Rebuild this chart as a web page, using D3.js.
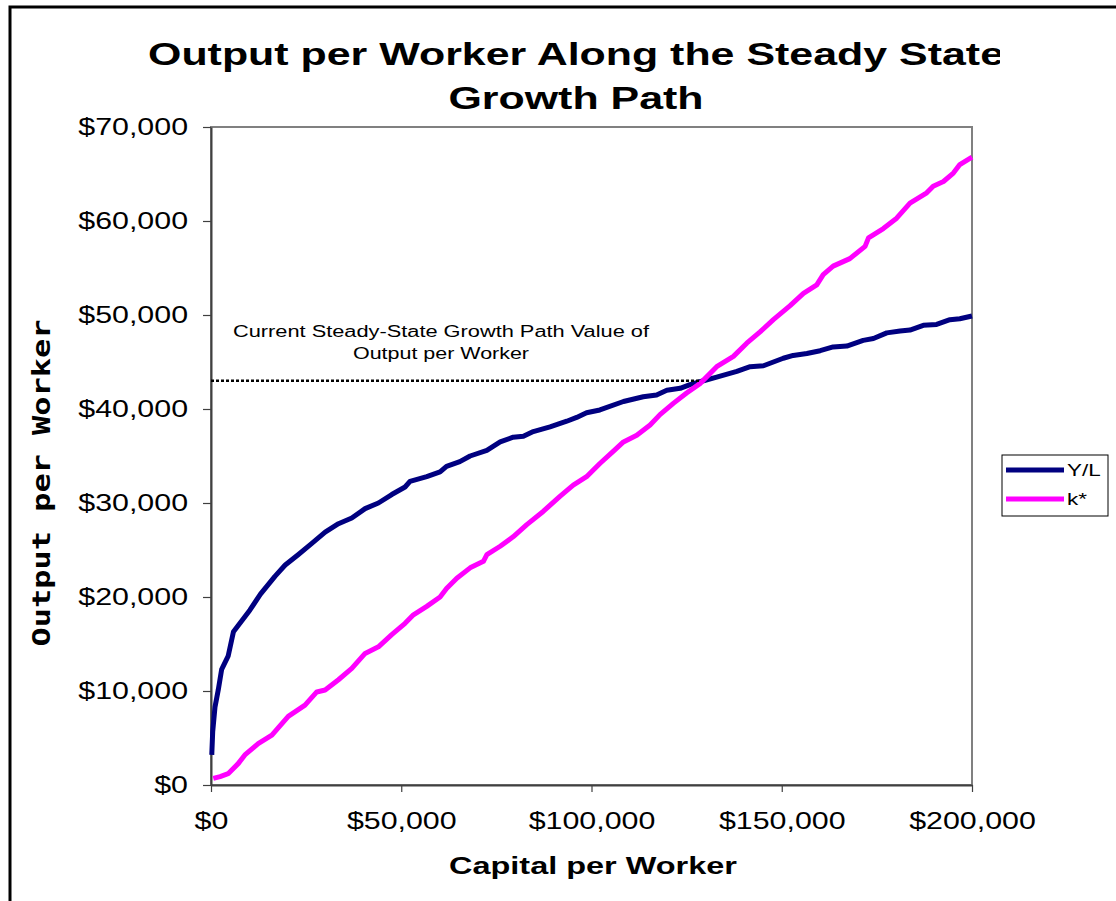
<!DOCTYPE html>
<html><head><meta charset="utf-8">
<script src="https://cdn.jsdelivr.net/npm/d3@7"></script>
<style>html,body{margin:0;padding:0;background:#fff}svg{display:block}</style>
</head><body>
<svg id="chart" width="1116" height="901"></svg>
<script>
// Output per worker (Y/L) against capital per worker
const capitalYL = [200, 450, 1050, 1900, 2800, 4500, 5900, 7600, 10200, 13000, 16800, 19500, 22900, 26500, 30000,
  33500, 37000, 40500, 44000, 47500, 51000, 52300, 56700, 60200, 61900, 65400, 68100, 72500, 76000, 79400,
  82100, 84700, 89100, 93500, 96100, 98700, 102200, 108400, 113600, 117100, 119800, 123300, 125900, 128500,
  132900, 138200, 141700, 145200, 150400, 153000, 156600, 160100, 163500, 167100, 171400, 174100, 177600,
  181100, 183700, 187200, 190700, 194200, 196800, 200000];
const outputYL = [3200, 5700, 8300, 10100, 12300, 13700, 16300, 17200, 18600, 20300, 22200, 23400, 24500, 25700, 26900,
  27800, 28400, 29400, 30000, 30900, 31700, 32300, 32800, 33300, 33900, 34400, 35000, 35600, 36500, 37000,
  37100, 37600, 38100, 38700, 39100, 39600, 39900, 40800, 41300, 41500, 42000, 42200, 42600, 42900,
  43400, 44000, 44500, 44600, 45400, 45700, 45900, 46200, 46600, 46700, 47300, 47500, 48100,
  48300, 48400, 48900, 49000, 49500, 49600, 49900];

// Steady-state line (k*)
const capitalK = [600, 2400, 4500, 7200, 8900, 12400, 16000, 20300, 24700, 27800, 30000, 33500, 37000, 40500, 44000,
  47500, 51000, 53200, 56700, 60200, 61900, 64600, 68100, 71600, 72500, 76000, 79400, 83000, 87300, 91700,
  95200, 98700, 102200, 105700, 108400, 111900, 115400, 118000, 121500, 125000, 128500, 132900, 137300,
  140800, 144300, 147800, 152200, 155700, 159200, 160900, 163500, 167900, 171900, 172800, 176700, 180200,
  183700, 188100, 189800, 192500, 195100, 196800, 200000];
const outputK = [700, 900, 1200, 2300, 3200, 4400, 5300, 7300, 8500, 9900, 10100, 11200, 12400, 14000, 14700,
  16000, 17200, 18100, 19000, 20000, 20900, 22000, 23100, 23800, 24500, 25400, 26400, 27700, 29100, 30700,
  31900, 32800, 34200, 35500, 36500, 37200, 38300, 39400, 40600, 41700, 42700, 44500, 45600,
  47000, 48200, 49500, 51000, 52300, 53200, 54300, 55200, 56000, 57300, 58200, 59200, 60300,
  61900, 63000, 63700, 64200, 65100, 66000, 66800];

// Current steady-state growth path value
const steadyOutput = 43000;
const steadyCapital = 128500;

const xTicks = [0, 50000, 100000, 150000, 200000];
const yTicks = [0, 10000, 20000, 30000, 40000, 50000, 60000, 70000];
const seriesNames = ["Y/L", "k*"];
const seriesColors = ["#000080", "#FF00FF"];
const titleLines = ["Output per Worker Along the Steady State", "Growth Path"];
const xTitle = "Capital per Worker";
const yTitle = "Output per Worker";
const noteLines = ["Current Steady-State Growth Path Value of", "Output per Worker"];

const SX = 1.32; // horizontal stretch of all lettering
const FONT = "'Liberation Sans', Arial, sans-serif";
const svg = d3.select("#chart");
const plot = {left: 211, right: 972, top: 127, bottom: 785};

function stretch(sel, k) {
  sel.each(function () {
    const len = this.getComputedTextLength();
    d3.select(this).attr("textLength", len * k).attr("lengthAdjust", "spacingAndGlyphs");
  });
}
function fit(sel, width) {
  sel.attr("textLength", width).attr("lengthAdjust", "spacingAndGlyphs");
}

svg.append("rect").attr("width", 1116).attr("height", 901).attr("fill", "#fff");

// outer chart frame
svg.append("rect").attr("x", 10).attr("y", 7).attr("width", 1200).attr("height", 1000)
  .attr("fill", "none").attr("stroke", "#000").attr("stroke-width", 3);

const x = d3.scaleLinear().domain([0, 200000]).range([plot.left, plot.right]);
const y = d3.scaleLinear().domain([0, 70000]).range([plot.bottom, plot.top]);
const money = d => "$" + d3.format(",")(d);

// plot area border
svg.append("rect").attr("x", plot.left).attr("y", plot.top)
  .attr("width", plot.right - plot.left).attr("height", plot.bottom - plot.top)
  .attr("fill", "none").attr("stroke", "#808080").attr("stroke-width", 2);

// axes
const gy = svg.append("g").attr("transform", `translate(${plot.left},0)`)
  .call(d3.axisLeft(y).tickValues(yTicks).tickSize(8).tickSizeOuter(0).tickPadding(15).tickFormat(money));
const gx = svg.append("g").attr("transform", `translate(0,${plot.bottom})`)
  .call(d3.axisBottom(x).tickValues(xTicks).tickSize(7).tickSizeOuter(0).tickPadding(21).tickFormat(money));
[gx, gy].forEach(g => {
  g.select(".domain").attr("stroke", "#404040").attr("stroke-width", 2);
  g.selectAll(".tick line").attr("stroke", "#404040").attr("stroke-width", 1.2);
  g.selectAll(".tick text").attr("fill", "#000").style("font-family", FONT).style("font-size", "23px");
  stretch(g.selectAll(".tick text"), SX);
});

// series
const lineGen = d3.line().x(d => x(d[0])).y(d => y(d[1]));
const seriesData = [d3.zip(capitalYL, outputYL), d3.zip(capitalK, outputK)];
seriesData.forEach((pts, i) => {
  svg.append("path").datum(pts).attr("d", lineGen)
    .attr("fill", "none").attr("stroke", seriesColors[i]).attr("stroke-width", 5)
    .attr("stroke-linejoin", "round");
});

// steady-state reference line
svg.append("line").attr("x1", x(0)).attr("x2", x(steadyCapital))
  .attr("y1", y(steadyOutput)).attr("y2", y(steadyOutput))
  .attr("stroke", "#000").attr("stroke-width", 2.5).attr("stroke-dasharray", "3,2");

// annotation
const note = svg.append("g").style("font-family", FONT).style("font-size", "16px");
const noteWidths = [416, 176];
noteLines.forEach((t, i) => {
  fit(note.append("text").attr("x", 441).attr("y", 337 + i * 22).attr("text-anchor", "middle").text(t), noteWidths[i]);
});

// title (clipped on the right, as in the chart frame)
svg.append("clipPath").attr("id", "titleClip").append("rect")
  .attr("x", 0).attr("y", 0).attr("width", 1000).attr("height", 120);
const title = svg.append("g").attr("clip-path", "url(#titleClip)")
  .style("font-family", FONT).style("font-size", "32px").style("font-weight", "bold");
titleLines.forEach((t, i) => {
  title.append("text").attr("x", 576).attr("y", 65 + i * 44).attr("text-anchor", "middle").text(t);
});
const t1 = title.select("text").node();
const tk = 856 / t1.getComputedTextLength();
stretch(title.selectAll("text"), tk);

// axis titles
fit(svg.append("text").attr("x", 593).attr("y", 874).attr("text-anchor", "middle")
  .style("font-family", FONT).style("font-size", "23px").style("font-weight", "bold").text(xTitle), 288);
svg.append("text").attr("transform", "translate(50,483) rotate(-90) scale(1,0.8)").attr("text-anchor", "middle")
  .style("font-family", "'DejaVu Sans Mono', monospace").style("font-size", "32px").style("font-weight", "bold")
  .attr("textLength", 327).attr("lengthAdjust", "spacingAndGlyphs").text(yTitle);

// legend
const lg = svg.append("g");
lg.append("rect").attr("x", 1002).attr("y", 455).attr("width", 106).attr("height", 61)
  .attr("fill", "#fff").attr("stroke", "#000").attr("stroke-width", 1);
seriesNames.forEach((n, i) => {
  const cy = 470 + i * 29;
  lg.append("line").attr("x1", 1006).attr("x2", 1064).attr("y1", cy).attr("y2", cy)
    .attr("stroke", seriesColors[i]).attr("stroke-width", 5);
  lg.append("text").attr("x", 1067).attr("y", cy + 6).style("font-family", FONT)
    .style("font-size", "17px").text(n);
});
stretch(lg.selectAll("text"), SX);
</script>
</body></html>
